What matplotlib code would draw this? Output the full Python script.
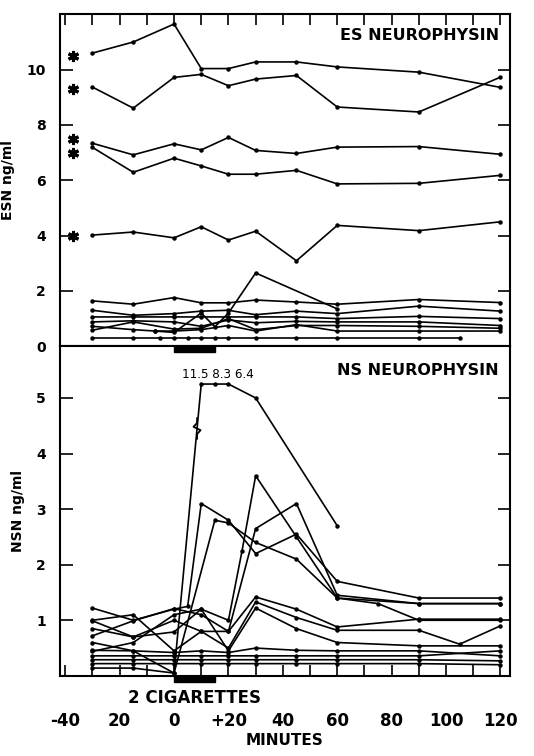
import numpy as np
import matplotlib
matplotlib.use("Agg")
import matplotlib.pyplot as plt
import matplotlib.transforms as mtransforms
from matplotlib.patches import Rectangle

plt.rcParams['font.family'] = ['DejaVu Sans']

# ES neurophysin (top panel), ng/ml
es_t = [-30, -15, 0, 10, 20, 30, 45, 60, 90, 120]
es_a = [10.6, 11.0, 11.65, 10.04, 10.04, 10.28, 10.28, 10.1, 9.91, 9.36]
es_b = [9.37, 8.61, 9.72, 9.83, 9.42, 9.66, 9.79, 8.65, 8.47, 9.73]
es_c = [7.34, 6.92, 7.32, 7.1, 7.55, 7.08, 6.97, 7.2, 7.22, 6.94]
es_d = [7.19, 6.29, 6.8, 6.52, 6.22, 6.22, 6.36, 5.87, 5.89, 6.18]
es_e = [4.02, 4.13, 3.92, 4.32, 3.84, 4.16, 3.09, 4.37, 4.18, 4.5]
es_l1 = [1.64, 1.52, 1.76, 1.57, 1.57, 1.67, 1.6, 1.52, 1.69, 1.58]
es_l2 = [1.30, 1.12, 1.18, 1.27, 1.3, 1.14, 1.27, 1.18, 1.45, 1.27]
es_l3 = [1.06, 1.06, 1.06, 1.06, 1.06, 1.06, 1.06, 1.0, 1.08, 1.0]
es_l4 = [0.88, 0.92, 0.88, 0.72, 0.95, 0.85, 0.9, 0.88, 0.88, 0.75]
es_l5 = [0.58, 0.88, 0.62, 0.65, 1.0, 0.6, 0.75, 0.75, 0.72, 0.65]
es_l6_t = [-30, -15, -7, 0, 10, 20, 30, 45, 60, 90, 120]
es_l6 = [0.72, 0.6, 0.55, 0.55, 0.6, 0.75, 0.55, 0.78, 0.55, 0.55, 0.55]
es_l7_t = [-30, -15, -5, 0, 5, 10, 15, 20, 30, 45, 60, 90, 105]
es_l7 = [0.31, 0.31, 0.31, 0.31, 0.31, 0.31, 0.31, 0.31, 0.31, 0.31, 0.31, 0.31, 0.31]
es_spk_t = [-7, 0, 10, 15, 20, 30, 60]
es_spk = [0.55, 0.5, 1.2, 0.7, 1.2, 2.65, 1.35]
star_vals = [10.5, 9.3, 7.5, 7.0, 4.0]

# NS neurophysin (bottom panel), ng/ml
ns_t = [-30, -15, 0, 10, 20, 30, 45, 60, 90, 120]
ns_big_t = [-30, -15, 0, 10, 15, 20, 30, 60]
ns_big = [0.14, 0.14, 0.05, 5.25, 5.25, 5.25, 5.0, 2.7]
ns_big_lbl = ['11.5', '8.3', '6.4']
ns_c2_t = [-30, -15, 0, 5, 10, 20, 30, 45, 60, 90, 120]
ns_c2 = [1.22, 1.0, 1.2, 1.25, 3.1, 2.8, 2.2, 2.55, 1.7, 1.4, 1.4]
ns_c3_t = [-30, -15, 0, 15, 20, 30, 45, 60, 90, 120]
ns_c3 = [0.6, 0.45, 0.05, 2.8, 2.75, 2.4, 2.1, 1.4, 1.3, 1.3]
ns_c4_t = [-30, -15, 0, 10, 20, 25, 30, 45, 60, 75, 90, 120]
ns_c4 = [0.85, 0.7, 0.79, 1.2, 1.0, 2.25, 3.6, 2.5, 1.4, 1.3, 1.0, 1.0]
ns_c5 = [1.0, 1.1, 0.45, 0.8, 0.8, 2.65, 3.1, 1.45, 1.3, 1.3]
ns_c6 = [0.72, 0.99, 1.21, 1.1, 0.8, 1.42, 1.2, 0.88, 1.02, 1.02]
ns_c7_t = [-30, -15, 0, 10, 20, 30, 45, 60, 90, 105, 120]
ns_c7 = [0.99, 0.7, 1.0, 0.8, 0.5, 1.33, 1.05, 0.82, 0.82, 0.57, 0.9]
ns_c8 = [0.44, 0.6, 1.1, 1.2, 0.45, 1.22, 0.85, 0.6, 0.54, 0.54]
ns_b1 = [0.46, 0.45, 0.42, 0.45, 0.42, 0.5, 0.46, 0.45, 0.45, 0.36]
ns_b2 = [0.36, 0.36, 0.36, 0.36, 0.36, 0.36, 0.36, 0.36, 0.36, 0.45]
ns_b3 = [0.29, 0.29, 0.29, 0.29, 0.29, 0.29, 0.29, 0.29, 0.29, 0.27]
ns_b4 = [0.22, 0.22, 0.22, 0.22, 0.22, 0.22, 0.22, 0.22, 0.22, 0.2]

smoking = (0, 15)
xtick_pos = [-40, -20, 0, 20, 40, 60, 80, 100, 120]
xtick_lbl = ['-40', '20', '0', '+20', '40', '60', '80', '100', '120']

line_kw = dict(color='black', lw=1.2, marker='o', ms=2.2)

fig = plt.figure(figsize=(5.34, 7.56), dpi=100)
ax1 = fig.add_axes([0.112, 0.542, 0.843, 0.439])
ax2 = fig.add_axes([0.112, 0.106, 0.843, 0.436])

# top panel
for v in [es_a, es_b, es_c, es_d, es_e, es_l1, es_l2, es_l3, es_l4, es_l5]:
    ax1.plot(es_t, v, **line_kw)
ax1.plot(es_l6_t, es_l6, **line_kw)
ax1.plot(es_l7_t, es_l7, **line_kw)
ax1.plot(es_spk_t, es_spk, **line_kw)
ax1.plot([-37] * len(star_vals), star_vals, ls='none', marker=(6, 2, 0),
         ms=8, mew=2.2, color='black')

ax1.set_xlim(-42, 123.5)
ax1.set_ylim(0, 12)
ax1.set_yticks([0, 2, 4, 6, 8, 10])
ax1.set_xticks(np.arange(-40, 121, 10))
ax1.tick_params(axis='x', which='both', direction='in', length=8, width=1.2,
                top=True, bottom=False, labelbottom=False)
ax1.tick_params(axis='y', direction='in', length=9, width=1.2, left=True, right=True,
                labelsize=10, pad=10)
ax1.set_ylabel('ESN ng/ml', fontsize=10, fontweight='bold', labelpad=8)
ax1.text(0.975, 0.935, 'ES NEUROPHYSIN', transform=ax1.transAxes, ha='right', va='center',
         fontsize=11.5, fontweight='bold')

# bottom panel
ax2.plot(ns_big_t, ns_big, **line_kw)
for v in [ns_c5, ns_c6, ns_c8, ns_b1, ns_b2, ns_b3, ns_b4]:
    ax2.plot(ns_t, v, **line_kw)
ax2.plot(ns_c2_t, ns_c2, **line_kw)
ax2.plot(ns_c3_t, ns_c3, **line_kw)
ax2.plot(ns_c4_t, ns_c4, **line_kw)
ax2.plot(ns_c7_t, ns_c7, **line_kw)

# break mark (zigzag) on the off-scale curve, centred on the line
brk_v = 4.45
brk_t = np.interp(brk_v, ns_big[2:4], ns_big_t[2:4])
ax2.plot(brk_t + np.array([0, 0, 1.3, -1.3, 0, 0]),
         brk_v + np.array([-0.2, -0.1, -0.03, 0.03, 0.1, 0.2]),
         color='black', lw=1.3, solid_capstyle='butt')
ax2.text(np.mean(ns_big_t[3:6]) + 1, 5.31, ' '.join(ns_big_lbl), ha='center', va='bottom',
         fontsize=9.5, fontstretch='condensed')

ax2.set_xlim(-42, 123.5)
ax2.set_ylim(0, 5.93)
ax2.set_yticks([1, 2, 3, 4, 5])
ax2.set_xticks(xtick_pos)
ax2.set_xticklabels(xtick_lbl)
ax2.set_xticks(np.arange(-40, 121, 10), minor=True)
ax2.tick_params(axis='x', which='both', direction='in', length=8, width=1.2,
                labelsize=12, pad=26)
for t in ax2.get_xticklabels():
    t.set_fontweight('bold')
ax2.tick_params(axis='y', direction='in', length=9, width=1.2, left=True, right=True,
                labelsize=10, pad=10)
ax2.set_ylabel('NSN ng/ml', fontsize=10, fontweight='bold', labelpad=8)
ax2.set_xlabel('MINUTES', fontsize=11, fontweight='bold', labelpad=2)
ax2.text(0.975, 0.925, 'NS NEUROPHYSIN', transform=ax2.transAxes, ha='right', va='center',
         fontsize=11.5, fontweight='bold')

for ax in [ax1, ax2]:
    for lbl in ax.get_yticklabels():
        lbl.set_fontweight('bold')
    for sp in ax.spines.values():
        sp.set_linewidth(1.5)

# smoking period bars
trans = mtransforms.blended_transform_factory(ax2.transData, ax2.transAxes)
ax2.add_patch(Rectangle((smoking[0], 0.982), smoking[1] - smoking[0], 0.018,
                        transform=trans, color='black', clip_on=False))
ax2.add_patch(Rectangle((smoking[0], -0.018), smoking[1] - smoking[0], 0.018,
                        transform=trans, color='black', clip_on=False))
ax2.text(np.mean(smoking), -0.04, '2 CIGARETTES', transform=trans, ha='center', va='top',
         fontsize=12, fontweight='bold')

fig.savefig('out.png', dpi=100)
